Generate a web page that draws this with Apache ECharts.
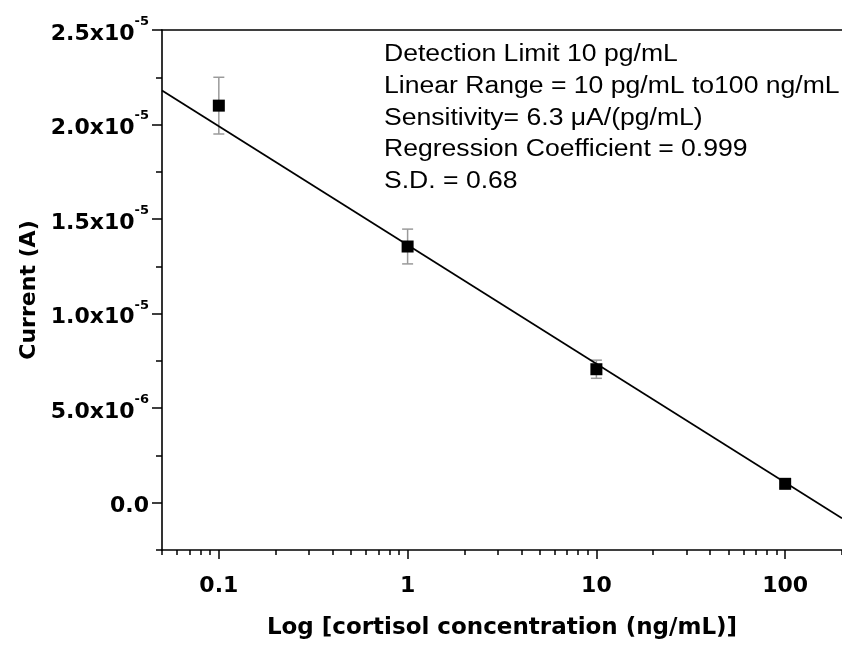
<!DOCTYPE html>
<html><head><meta charset="utf-8">
<script src="https://cdn.jsdelivr.net/npm/echarts@6/dist/echarts.min.js"></script>
<style>html,body{margin:0;padding:0;background:#fff}#c{width:842px;height:645px}</style>
</head><body><div id="c"></div>
<script>
// ---- data ----
const concentrations = [0.1, 1, 10, 100];            // ng/mL
const currents = [2.10e-5, 1.355e-5, 7.06e-6, 1.0e-6]; // A
const currentErrors = [1.5e-6, 0.92e-6, 0.48e-6, 0.2e-6];
const fitX = [0.05, 200];
const fitY = [2.18e-5, -0.82e-6];
const xMajorTicks = [0.1, 1, 10, 100];
const xMinorTicks = [0.05, 0.06, 0.07, 0.08, 0.09, 0.2, 0.3, 0.4, 0.5, 0.6, 0.7, 0.8, 0.9,
  2, 3, 4, 5, 6, 7, 8, 9, 20, 30, 40, 50, 60, 70, 80, 90, 200];
const yMajorTicks = [0, 5e-6, 1e-5, 1.5e-5, 2e-5, 2.5e-5];
const yMinorTicks = [-2.5e-6, 2.5e-6, 7.5e-6, 1.25e-5, 1.75e-5, 2.25e-5];
const xTitle = 'Log [cortisol concentration (ng/mL)]';
const yTitle = 'Current (A)';
const annotationLines = [
  'Detection Limit 10 pg/mL',
  'Linear Range = 10 pg/mL to100 ng/mL',
  'Sensitivity= 6.3 \u03bcA/(pg/mL)',
  'Regression Coefficient = 0.999',
  'S.D. = 0.68'
];

// ---- chart ----
const X_MIN = 0.05, X_MAX = 200, Y_MIN = -2.5e-6, Y_MAX = 2.5e-5;
const AX = {color: '#000', width: 1.6};
const FONT_B = 'DejaVu Sans';

function sciLabel(v) {
  if (Math.abs(v) < 1e-12) return '{m|0.0}';
  const e = Math.floor(Math.log10(Math.abs(v)) + 1e-9);
  const m = v / Math.pow(10, e);
  return '{m|' + m.toFixed(1) + 'x10}{e|' + e + '}';
}

const chart = echarts.init(document.getElementById('c'), null, {renderer: 'canvas'});
chart.setOption({
  animation: false,
  backgroundColor: '#fff',
  grid: {left: 162, right: 0, top: 30, bottom: 88, containLabel: false},
  xAxis: [
    {
      type: 'log', logBase: 10, min: X_MIN, max: X_MAX, position: 'bottom',
      axisLine: {show: true, onZero: false, lineStyle: AX},
      axisTick: {show: true, customValues: xMajorTicks, length: 9, inside: false, lineStyle: {color: '#000', width: 1.5}},
      axisLabel: {show: true, customValues: xMajorTicks, margin: 25,
        formatter: v => String(v),
        color: '#000', fontFamily: FONT_B, fontWeight: 'bold', fontSize: 22},
      splitLine: {show: false},
      name: xTitle, nameLocation: 'middle', nameGap: 67,
      nameTextStyle: {color: '#000', fontFamily: FONT_B, fontWeight: 'bold', fontSize: 23}
    },
    {
      type: 'log', logBase: 10, min: X_MIN, max: X_MAX, position: 'bottom',
      axisLine: {show: false, onZero: false},
      axisTick: {show: true, customValues: xMinorTicks, length: 5, lineStyle: {color: '#000', width: 1.5}},
      axisLabel: {show: false},
      splitLine: {show: false}
    },
    {
      type: 'log', logBase: 10, min: X_MIN, max: X_MAX, position: 'top',
      axisLine: {show: true, onZero: false, lineStyle: AX},
      axisTick: {show: false}, axisLabel: {show: false}, splitLine: {show: false}
    }
  ],
  yAxis: [
    {
      type: 'value', min: Y_MIN, max: Y_MAX, position: 'left',
      axisLine: {show: true, onZero: false, lineStyle: AX},
      axisTick: {show: true, customValues: yMajorTicks, length: 10, lineStyle: {color: '#000', width: 1.5}},
      axisLabel: {show: true, customValues: yMajorTicks, margin: 13, formatter: sciLabel,
        rich: {
          m: {color: '#000', fontFamily: FONT_B, fontWeight: 'bold', fontSize: 22, lineHeight: 30, verticalAlign: 'bottom'},
          e: {color: '#000', fontFamily: FONT_B, fontWeight: 'bold', fontSize: 13, lineHeight: 30, verticalAlign: 'top'}
        }},
      splitLine: {show: false},
      name: yTitle, nameLocation: 'middle', nameGap: 120,
      nameTextStyle: {color: '#000', fontFamily: FONT_B, fontWeight: 'bold', fontSize: 22}
    },
    {
      type: 'value', min: Y_MIN, max: Y_MAX, position: 'left',
      axisLine: {show: false, onZero: false},
      axisTick: {show: true, customValues: yMinorTicks, length: 6, lineStyle: {color: '#000', width: 1.5}},
      axisLabel: {show: false}, splitLine: {show: false}
    }
  ],
  graphic: [{
    type: 'text', x: 384, y: 39, scaleX: 1.155, z: 10,
    style: {text: annotationLines.join('\n'), font: '23px "Liberation Sans", Arial, sans-serif',
      lineHeight: 31.7, fill: '#000', align: 'left', verticalAlign: 'top'}
  }],
  series: [
    {
      type: 'custom', xAxisIndex: 0, yAxisIndex: 0, z: 2,
      data: concentrations.map((x, i) => [x, currents[i] - currentErrors[i], currents[i] + currentErrors[i]]),
      renderItem: function (params, api) {
        const x = api.value(0);
        const lo = api.coord([x, api.value(1)]);
        const hi = api.coord([x, api.value(2)]);
        const w = 5.5;
        const st = {stroke: '#9a9a9a', lineWidth: 1.5};
        return {type: 'group', children: [
          {type: 'line', shape: {x1: lo[0], y1: lo[1], x2: hi[0], y2: hi[1]}, style: st},
          {type: 'line', shape: {x1: lo[0] - w, y1: lo[1], x2: lo[0] + w, y2: lo[1]}, style: st},
          {type: 'line', shape: {x1: hi[0] - w, y1: hi[1], x2: hi[0] + w, y2: hi[1]}, style: st}
        ]};
      }
    },
    {
      type: 'line', xAxisIndex: 0, yAxisIndex: 0, z: 3,
      data: fitX.map((x, i) => [x, fitY[i]]),
      showSymbol: false, symbol: 'none',
      lineStyle: {color: '#000', width: 1.8}
    },
    {
      type: 'scatter', xAxisIndex: 0, yAxisIndex: 0, z: 4,
      data: concentrations.map((x, i) => [x, currents[i]]),
      symbol: 'rect', symbolSize: 12,
      itemStyle: {color: '#000', opacity: 1}
    }
  ]
});
</script>
</body></html>
